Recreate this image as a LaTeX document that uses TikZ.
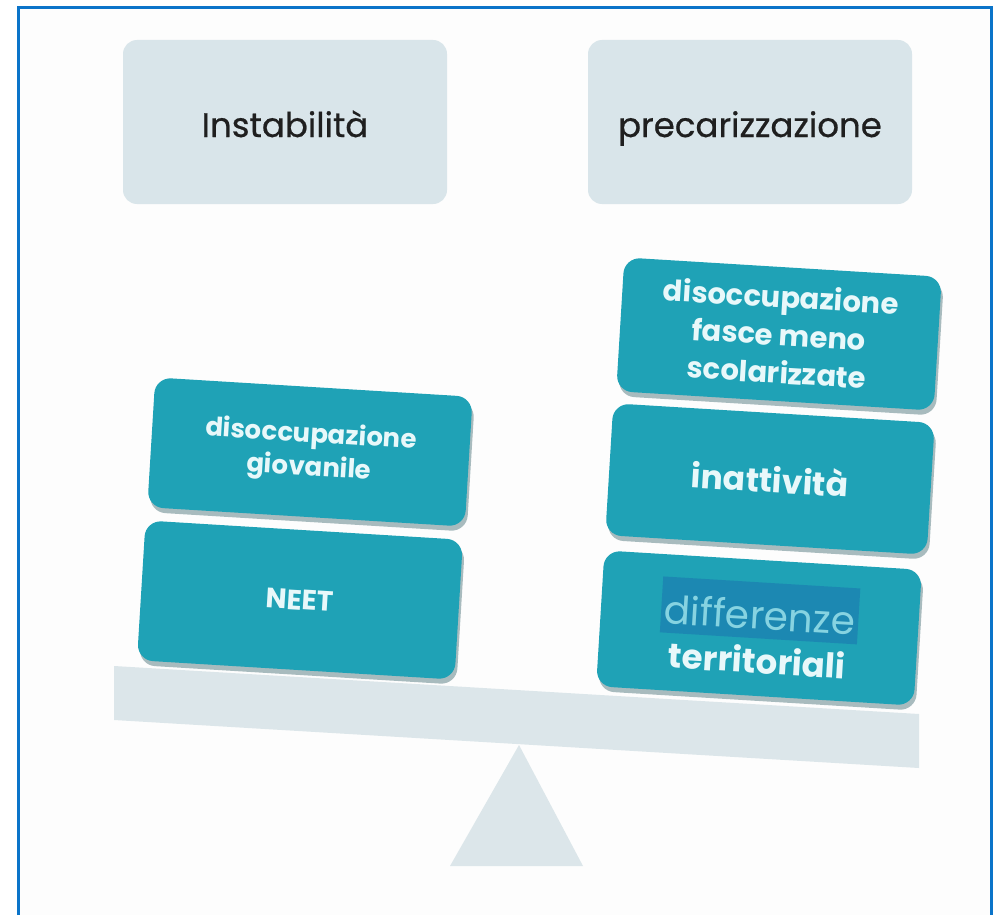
\documentclass[tikz,border=0pt]{standalone}
\usepackage{fontspec}
\setmainfont{Poppins}
\usetikzlibrary{shadows}
\definecolor{framecol}{HTML}{0B74C9}
\definecolor{paper}{HTML}{FDFDFD}
\definecolor{headfill}{HTML}{D9E5EA}
\definecolor{tealfill}{HTML}{1FA2B6}
\definecolor{tealtext}{HTML}{E8F8FA}
\definecolor{beamfill}{HTML}{DCE6EA}
\definecolor{hlfill}{HTML}{1C88B2}
\definecolor{hltext}{HTML}{86D3E1}
\newcommand{\boxfont}[2]{\bfseries\fontsize{#1}{#2}\selectfont\lineskiplimit=-60pt\lineskip=0pt}
\tikzset{
  headbox/.style={fill=headfill, rounded corners=14pt, minimum width=324pt,
    minimum height=164pt, inner sep=0pt, text=black!88,
    text height=30pt, text depth=0pt,
    font=\fontsize{34}{36}\selectfont\addfontfeature{FakeBold=0.6}},
  weightbox/.style={fill=tealfill, rounded corners=16pt, minimum width=318pt,
    minimum height=134pt, inner sep=0pt, align=center, text=tealtext,
    rotate=-3.5,
    drop shadow={shadow xshift=2pt, shadow yshift=-5pt, opacity=0.35, fill=black!60!tealfill}},
}
\begin{document}
\begin{tikzpicture}[x=1pt, y=-1pt]
  \useasboundingbox (0,0) rectangle (1000,915);
  \fill[white] (0,0) rectangle (1000,915);
  \fill[paper] (20,8) rectangle (990,915);
  % outer frame, open at the bottom
  \draw[framecol, line width=3pt] (18.5,915) -- (18.5,7.5) -- (991.5,7.5) -- (991.5,915);

  % the scale: beam and pivot
  \fill[beamfill] (114,666) -- (919,714) -- (919,768) -- (114,720) -- cycle;
  \fill[beamfill] (519,745) -- (583,866) -- (450,866) -- cycle;

  % headings
  \node[headbox] (instab) at (285,122) {Instabilità};
  \node[headbox] (precar) at (750,122) {precarizzazione};

  % left pan
  \node[weightbox, minimum height=130pt, font=\boxfont{26}{33}] (giov) at (310,452) {disoccupazione\\giovanile};
  \node[weightbox, minimum height=140pt, font=\boxfont{28}{34}] (neet) at (300,600) {NEET};

  % right pan
  \node[weightbox, font=\boxfont{29}{38}] (scol) at (779,334) {disoccupazione\\fasce meno\\scolarizzate};
  \node[weightbox, minimum width=322pt, minimum height=132pt, font=\boxfont{33}{38}] (inatt) at (770,479) {inattività};
  \node[weightbox, minimum height=136pt, font=\boxfont{34}{44}] (terr) at (759,628)
    {{\setlength{\fboxsep}{3pt}\colorbox{hlfill}{\rule[-6pt]{0pt}{50pt}\mdseries\fontsize{39}{42}\selectfont\color{hltext}differenze}}\\territoriali};
\end{tikzpicture}
\end{document}
